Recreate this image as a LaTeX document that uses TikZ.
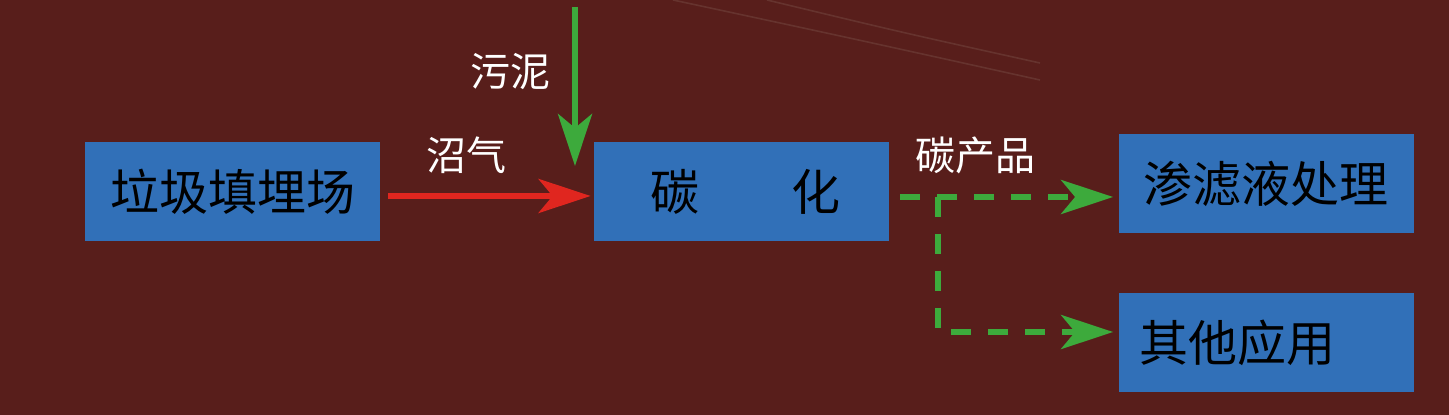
\documentclass[tikz,border=0pt]{standalone}
\usepackage{fontspec}
\newfontfamily\cjk{Noto Sans CJK SC}
\usetikzlibrary{arrows.meta}

\definecolor{bgred}{HTML}{581E1B}
\definecolor{boxblue}{HTML}{3170B8}
\definecolor{arrred}{HTML}{E0261F}
\definecolor{arrgreen}{HTML}{3DAA3C}
\definecolor{bgstreak}{HTML}{66332E}

\begin{document}
\begin{tikzpicture}[x=0.5pt, y=-0.5pt]
				\tikzstyle{blockbox}=[fill=boxblue, inner sep=0pt, minimum width=147.5pt, minimum height=49.5pt, font=\cjk\fontsize{24.5}{28}\selectfont, text=black]
				\tikzstyle{lbl}=[inner sep=0pt, font=\cjk\fontsize{20}{24}\selectfont, text=white]
				\tikzstyle{tip}=[-{Stealth[length=26pt, width=17pt, inset=7pt]}]
				\tikzstyle{rline}=[tip, draw=arrred, line width=3pt]
				\tikzstyle{gline}=[tip, draw=arrgreen, line width=3pt]
				\tikzstyle{gdash}=[gline, dash pattern=on 10pt off 8.5pt]
				% background
				\fill[bgred] (0,0) rectangle (1449,415);
				\useasboundingbox (0,0) rectangle (1449,415);
				\draw[bgstreak, line width=0.8pt] (673,0) .. controls (850,38) .. (1040,80);
				\draw[bgstreak, line width=0.8pt] (767,0) .. controls (900,32) .. (1040,63);
				% boxes
				\node[blockbox] (landfill) at (232.5, 191.5) {垃圾填埋场};
				\node[blockbox] (carbon) at (741.5, 191.5) {\hspace{4pt}碳\hspace{46pt}化};
				\node[blockbox] (leach) at (1266, 183.5) {渗滤液处理};
				\node[blockbox, text width=126.5pt, inner xsep=10.5pt, align=left] (other) at (1266, 342.5) {其他应用};
				% labels
				\node[lbl] (sludge) at (510, 72) {污泥};
				\node[lbl] (biogas) at (466, 155) {沼气};
				\node[lbl] (product) at (975, 155) {碳产品};
				% arrows
				\coordinate (sludgetop) at (575, 7);
				\coordinate (sludgeend) at (575, 166);
				\coordinate (split) at (938, 197);
				\coordinate (bend) at (938, 332);
				\draw[rline, shorten <=4pt, shorten >=1.5pt] ([yshift=-2.25pt]landfill.east) -- ([yshift=-2.25pt]carbon.west);
				\draw[gline] (sludgetop) -- (sludgeend);
				\draw[gdash, shorten <=5.5pt, shorten >=2.5pt] (carbon.east |- split) -- (split -| leach.west);
				\draw[gdash, shorten >=2.5pt] (split) -- (bend) -- (bend -| other.west);
		\end{tikzpicture}
\end{document}
